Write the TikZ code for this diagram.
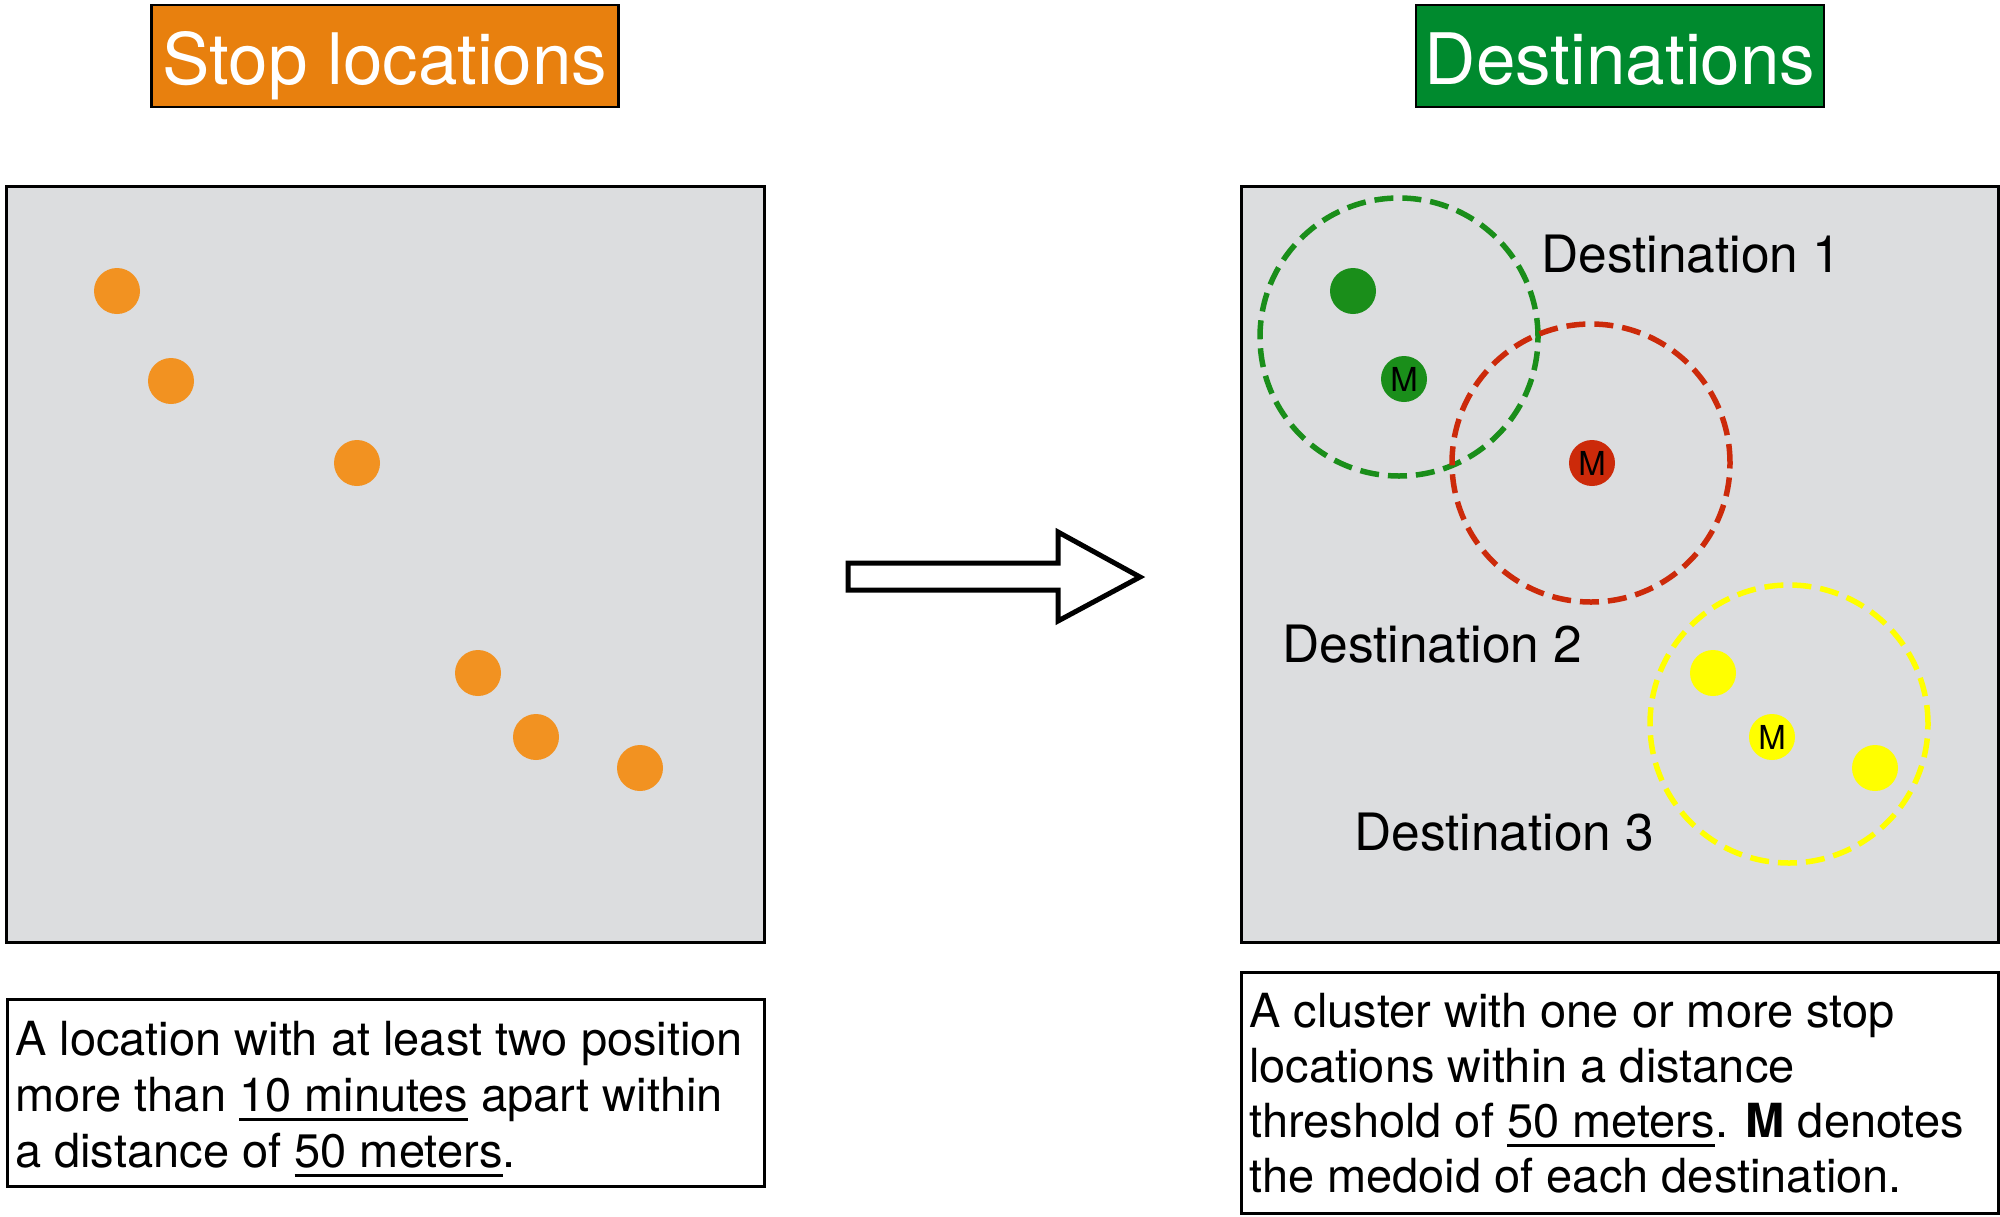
\documentclass[tikz,border=0pt]{standalone}
\usepackage{fontspec}
\setmainfont{TeX Gyre Heros}
\definecolor{titleorange}{RGB}{232,128,14}
\definecolor{titlegreen}{RGB}{0,138,46}
\definecolor{dotorange}{RGB}{242,146,33}
\definecolor{dotgreen}{RGB}{26,142,26}
\definecolor{dotred}{RGB}{204,42,10}
\definecolor{dotyellow}{RGB}{255,255,0}
\definecolor{panelgray}{RGB}{220,221,223}
\newcommand\myul[1]{\setbox0\hbox{#1}\rlap{\rule[-10pt]{\wd0}{3pt}}\box0\relax}
\begin{document}
\begin{tikzpicture}[x=1pt,y=-1pt,
  titlebox/.style={draw=black,line width=2.5pt,fill=#1,minimum width=467pt,minimum height=102pt,inner sep=0pt},
  titletext/.style={anchor=base,text=white,font=\fontsize{71}{80}\selectfont,inner sep=0pt},
  panel/.style={draw=black,line width=2.5pt,fill=panelgray,anchor=north west,inner sep=0pt},
  descbox/.style={draw=black,line width=2.5pt,fill=white,anchor=north west,inner sep=0pt},
  desctext/.style={anchor=base west,inner sep=0pt,font=\fontsize{47}{56}\selectfont},
  dot/.style={circle,fill=#1,minimum size=46pt,inner sep=0pt},
  mdot/.style={circle,fill=#1,minimum size=46pt,inner sep=0pt,font=\fontsize{33}{33}\selectfont},
  ring/.style={circle,draw=#1,line width=5.5pt,dash pattern=on 19pt off 9pt,minimum size=278pt,inner sep=0pt},
  destlabel/.style={anchor=base west,inner sep=0pt,font=\fontsize{51.5}{56}\selectfont}]
\useasboundingbox (0,0) rectangle (2000,1216);
% titles
\node[titlebox=titleorange] (ttl1) at (385,56) {};
\node[titletext] (ttl1t) at (385,84) {Stop locations};
\node[titlebox=titlegreen,minimum width=408pt] (ttl2) at (1620,56) {};
\node[titletext] (ttl2t) at (1620,84) {Destinations};
% panels
\node[panel,minimum width=758pt,minimum height=756pt] (pl) at (5,185) {};
\node[panel,minimum width=757pt,minimum height=756pt] (pr) at (1240,185) {};
% left dots
\node[dot=dotorange] (o1) at (117,291) {};
\node[dot=dotorange] (o2) at (171,381) {};
\node[dot=dotorange] (o3) at (357,463) {};
\node[dot=dotorange] (o4) at (478,673) {};
\node[dot=dotorange] (o5) at (536,737) {};
\node[dot=dotorange] (o6) at (640,768) {};
% arrow
\draw[line width=5pt,fill=white,line join=miter] (848,563) -- (1058,563) -- (1058,532) -- (1140,577) -- (1058,621) -- (1058,590) -- (848,590) -- cycle;
% right dots
\node[dot=dotgreen] (g1) at (1353,291) {};
\node[mdot=dotgreen] (g2) at (1404,379) {M};
\node[mdot=dotred] (r1) at (1592,463) {M};
\node[dot=dotyellow] (y1) at (1713,673) {};
\node[mdot=dotyellow] (y2) at (1772,737) {M};
\node[dot=dotyellow] (y3) at (1875,768) {};
% rings
\node[ring=dotgreen] (ringg) at (1399,337) {};
\node[ring=dotred] (ringr) at (1591,463) {};
\node[ring=dotyellow] (ringy) at (1789,724) {};
% labels
\node[destlabel] (d1) at (1541,272) {Destination 1};
\node[destlabel] (d2) at (1282,662) {Destination 2};
\node[destlabel] (d3) at (1354,850) {Destination 3};
% description boxes
\node[descbox,minimum width=757pt,minimum height=187pt] (bl) at (6,998) {};
\node[desctext] (bl1) at (15,1055) {A location with at least two position};
\node[desctext] (bl2) at (15,1111) {more than \myul{10 minutes} apart within};
\node[desctext] (bl3) at (15,1167) {a distance of \myul{50 meters}.};
\node[descbox,minimum width=757pt,minimum height=241pt] (br) at (1240,971) {};
\node[desctext] (br1) at (1249,1027) {A cluster with one or more stop};
\node[desctext] (br2) at (1249,1082) {locations within a distance};
\node[desctext] (br3) at (1249,1137) {threshold of \myul{50 meters}. \textbf{M} denotes};
\node[desctext] (br4) at (1249,1192) {the medoid of each destination.};
\end{tikzpicture}
\end{document}
